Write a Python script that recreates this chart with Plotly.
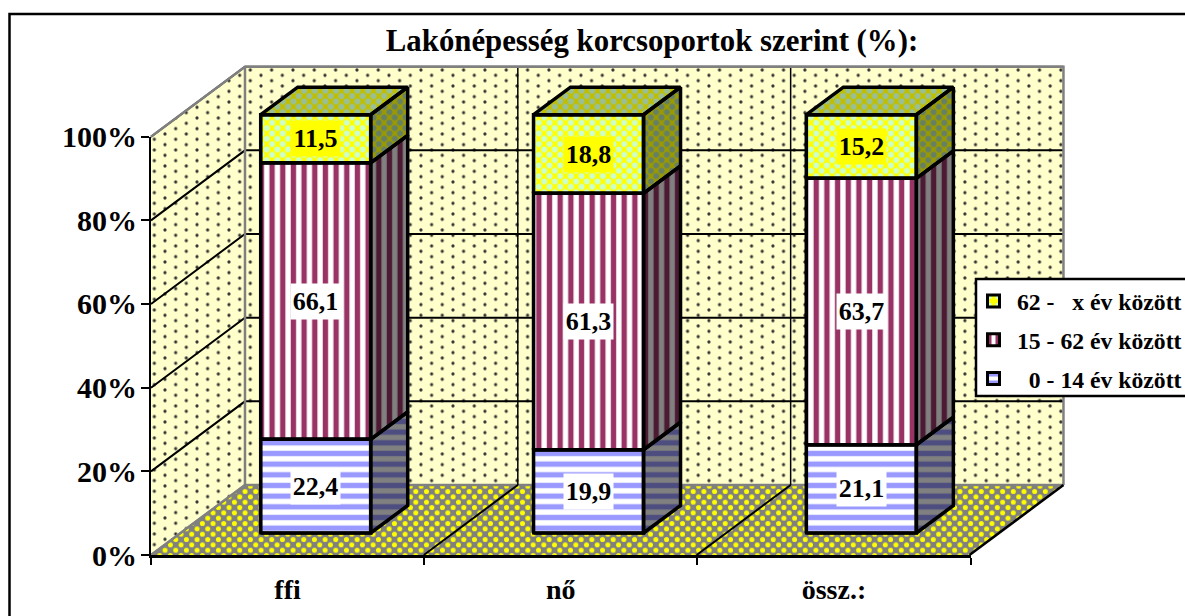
import plotly.graph_objects as go

# --- data ---
CATEGORIES = ["ffi", "nő", "össz.:"]
YOUNG = [22.4, 19.9, 21.1]
ADULT = [66.1, 61.3, 63.7]
OLD = [11.5, 18.8, 15.2]
YTICKS = [0, 20, 40, 60, 80, 100]
YTICK_LABELS = ["0%", "20%", "40%", "60%", "80%", "100%"]
NAMES = ["\u00a0\u00a00\u00a0-\u00a014\u00a0év\u00a0között", "15\u00a0-\u00a062\u00a0év\u00a0között", "62\u00a0-\u00a0\u00a0\u00a0x\u00a0év\u00a0között"]
TITLE = "Lakónépesség korcsoportok szerint (%):"

# --- geometry of the oblique view, in pixels ---
W, H = 1185, 616
FONT = "Liberation Serif"
XS = 272.83        # px per category
YS = 4.183         # px per percent
X0, Y0 = 315.7, 533.0  # px of first bar centre / bar base
BAR_W = 110 / XS
BACK = (65.7 / XS, 48.0 / YS)    # from bar front plane to back wall
FRONT = (-28.3 / XS, -22.0 / YS) # from bar front plane to front floor edge
DEPTH = (37.0 / XS, 27.5 / YS)   # depth of the bar
TILE = 10.67
HALF = TILE / 2
WALL_TILE = 21.33
PAD = 20
# four shifted copies build the staggered dot lattice of the walls, two the floor's
WALL_SHIFTS = {1: (5.0, 6.0), 2: (5.0, 16.67), 3: (15.7, 0.66), 4: (15.7, 11.33)}
FLOOR_SUB, GRID_SUB = 5, 5
BAR_SUB, TOP_SUB, TICK_SUB = 6, 7, 8
OTHER_SHIFTS = {FLOOR_SUB: (5.0 + HALF, 6.0 + HALF), BAR_SUB: (0, 0), TOP_SUB: (HALF, HALF)}


def axes(n, sx=0.0, sy=0.0):
    L, R = sx, W - PAD + sx
    T, B = sy, H - PAD + sy
    common = dict(visible=False, showgrid=False, zeroline=False, fixedrange=True)
    return {
        f"xaxis{n}": dict(domain=[L / W, R / W], range=[(L - X0) / XS, (R - X0) / XS],
                          anchor=f"y{n}", **common),
        f"yaxis{n}": dict(domain=[(H - B) / H, (H - T) / H], range=[(Y0 - B) / YS, (Y0 - T) / YS],
                          anchor=f"x{n}", **common),
    }


def poly(pts, sub, fill=None, pat=None, line=None, lw=0):
    xs = [p[0] for p in pts]
    ys = [p[1] for p in pts]
    kw = dict(x=xs, y=ys, xaxis=f"x{sub}", yaxis=f"y{sub}", showlegend=False,
              hoverinfo="skip", mode="lines")
    if lw:
        kw["line"] = dict(color=line, width=lw)
    else:
        kw["line"] = dict(width=0)
    if fill or pat:
        kw["fill"] = "toself"
        kw["fillcolor"] = fill or "rgba(0,0,0,0)"
        if pat:
            kw["fillpattern"] = pat
    return go.Scatter(**kw)


def dots(color, sol, bg, size=TILE):
    return dict(shape=".", size=size, solidity=sol, fgcolor=color, bgcolor=bg, fgopacity=1)


CLEAR = "rgba(0,0,0,0)"
fig = go.Figure()

lo, hi = -0.5, 2.5
def front(c, p): return (c + FRONT[0], p + FRONT[1])
def back(c, p): return (c + BACK[0], p + BACK[1])

left_wall = [front(lo, 0), front(lo, 100), back(lo, 100), back(lo, 0), front(lo, 0)]
back_wall = [back(lo, 0), back(lo, 100), back(hi, 100), back(hi, 0), back(lo, 0)]
floor = [front(lo, 0), front(hi, 0), back(hi, 0), back(lo, 0), front(lo, 0)]

WALL_DOT = "#333333"
FLOOR_DOT_SOLID = 0.17
for sub in WALL_SHIFTS:
    bgc = "#FFFFCC" if sub == 1 else CLEAR
    for shape_pts in (left_wall, back_wall):
        fig.add_trace(poly(shape_pts, sub, fill=bgc, pat=dots(WALL_DOT, 0.018, bgc, WALL_TILE)))
fig.add_trace(poly(floor, 1, fill="#808080", pat=dots("#FFFF00", FLOOR_DOT_SOLID, "#808080")))
fig.add_trace(poly(floor, FLOOR_SUB, pat=dots("#FFFF00", FLOOR_DOT_SOLID, CLEAR)))

# gridlines, on top of the dot layers
for t in YTICKS:
    col, w = ("black", 2) if t else ("#808080", 2.5)
    fig.add_trace(poly([front(lo, t), back(lo, t), back(hi, t)], GRID_SUB, line=col, lw=w))
for c in (0.5, 1.5):
    fig.add_trace(poly([back(c, 0), back(c, 100)], GRID_SUB, line="black", lw=1.5))
    fig.add_trace(poly([front(c, 0), back(c, 0)], GRID_SUB, line="black", lw=2))
fig.add_trace(poly([front(lo, 100), back(lo, 100), back(hi, 100), back(hi, 0)], GRID_SUB, line="#808080", lw=2.5))
fig.add_trace(poly([back(lo, 100), back(lo, 0)], GRID_SUB, line="#808080", lw=2.5))
fig.add_trace(poly([front(lo, 0), back(lo, 0)], GRID_SUB, line="#808080", lw=2))
fig.add_trace(poly([front(hi, 0), back(hi, 0)], GRID_SUB, line="black", lw=2.5))

# bars
SERIES = [
    dict(vals=YOUNG, name=NAMES[0], rank=3, color="white", fg="#9999FF", shape="-", side_bg="#808080", side_fg="#4D4D80", top_bg=None, top_fg=None, label="white"),
    dict(vals=ADULT, name=NAMES[1], rank=2, color="white", fg="#993366", shape="|", side_bg="#808080", side_fg="#4D1A33", top_bg=None, top_fg=None, label="white"),
    dict(vals=OLD, name=NAMES[2], rank=1, color="#FFFF00", fg="#CCFFCC", shape=".", side_bg="#668066", side_fg="#999900", top_bg="#99BF99", top_fg="#BFBF00", label="#FFFF00"),
]
SOLID = 0.25
cum = [0.0, 0.0, 0.0]
annotations = []
outlines = []
for s in SERIES:
    base = list(cum)
    top = [b + v for b, v in zip(base, s["vals"])]
    solid = SOLID if s["shape"] == "." else 0.5
    fig.add_trace(go.Bar(
        x=[0, 1, 2], y=s["vals"], base=base, width=BAR_W, name=s["name"],
        xaxis=f"x{BAR_SUB}", yaxis=f"y{BAR_SUB}", legendgroup=s["name"], legendrank=s["rank"],
        hoverinfo="skip",
        marker=dict(color=s["color"], line=dict(color="black", width=3),
                    pattern=dict(shape=s["shape"], size=TILE, solidity=solid, fgopacity=1,
                                 fgcolor=s["fg"], bgcolor=s["color"])),
    ))
    if s["shape"] == ".":
        fig.add_trace(go.Bar(
            x=[0, 1, 2], y=s["vals"], base=base, width=BAR_W, showlegend=False,
            xaxis=f"x{TOP_SUB}", yaxis=f"y{TOP_SUB}", hoverinfo="skip",
            marker=dict(color=CLEAR, line=dict(width=0),
                        pattern=dict(shape=".", size=TILE, solidity=solid, fgcolor=s["fg"], bgcolor=CLEAR, fgopacity=1)),
        ))
    for i in range(3):
        l, r = i - BAR_W / 2, i + BAR_W / 2
        dx, dy = DEPTH
        side = [(r, base[i]), (r + dx, base[i] + dy), (r + dx, top[i] + dy), (r, top[i]), (r, base[i])]
        if s["shape"] == ".":
            fig.add_trace(poly(side, BAR_SUB, fill=s["side_fg"], pat=dots(s["side_bg"], solid, s["side_fg"])))
            fig.add_trace(poly(side, TOP_SUB, pat=dots(s["side_bg"], solid, CLEAR)))
            cap = [(l, top[i]), (r, top[i]), (r + dx, top[i] + dy), (l + dx, top[i] + dy), (l, top[i])]
            fig.add_trace(poly(cap, BAR_SUB, fill=s["top_fg"], pat=dots(s["top_bg"], solid, s["top_fg"])))
            fig.add_trace(poly(cap, TOP_SUB, pat=dots(s["top_bg"], solid, CLEAR)))
            outlines.append(cap)
        else:
            fig.add_trace(poly(side, BAR_SUB, fill=s["side_bg"],
                               pat=dict(shape=s["shape"], size=TILE, solidity=0.5, fgopacity=1,
                                        fgcolor=s["side_fg"], bgcolor=s["side_bg"])))
        outlines.append(side)
        outlines.append([(l, base[i]), (r, base[i]), (r, top[i]), (l, top[i]), (l, base[i])])
        annotations.append(dict(
            x=i, y=(base[i] + top[i]) / 2, xref=f"x{BAR_SUB}", yref=f"y{BAR_SUB}",
            text=str(s["vals"][i]).replace(".", ","), showarrow=False,
            font=dict(family=FONT, size=26, color="black", weight=700),
            bgcolor=s["label"], width=47, height=33, align="center", valign="middle",
        ))
    cum = top

for o in outlines:
    fig.add_trace(poly(o, TOP_SUB, line="black", lw=3.5))

# axes with ticks, drawn last
fig.add_trace(go.Scatter(x=CATEGORIES, y=[None, None, None], xaxis=f"x{TICK_SUB}", yaxis=f"y{TICK_SUB}",
                         showlegend=False, hoverinfo="skip", mode="markers"))

layout = dict(
    width=W, height=H, margin=dict(l=0, r=0, t=0, b=0, autoexpand=False),
    paper_bgcolor="white", plot_bgcolor=CLEAR, barmode="overlay",
    title=dict(text=TITLE, x=652 / W, y=1 - 40 / H, xanchor="center", yanchor="middle",
               font=dict(family=FONT, size=30.8, color="black", weight=700)),
    annotations=annotations,
    legend=dict(x=970 / W, y=1 - 279 / H, xanchor="left", yanchor="top",
                bgcolor=CLEAR, borderwidth=0, itemwidth=37,
                traceorder="grouped", tracegroupgap=5, itemclick=False,
                font=dict(family=FONT, size=23.7, color="black", weight=700)),
    shapes=[dict(type="path", xref="paper", yref="paper", path=f"M {9.5/W} 0 L {9.5/W} {1-14/H} L 1 {1-14/H}",
                 line=dict(color="black", width=2.5)),
            dict(type="rect", xref="paper", yref="paper", x0=976 / W, x1=1.02, y0=1 - 396 / H, y1=1 - 279 / H,
                 fillcolor="white", line=dict(color="black", width=2.5), layer="above")],
)
for n, (sx, sy) in {**WALL_SHIFTS, **OTHER_SHIFTS}.items():
    layout.update(axes(n, sx, sy))
AX_L, AX_R, AX_T, AX_B = 151, 970.5, 136.5, 555
layout[f"xaxis{TICK_SUB}"] = dict(domain=[AX_L / W, AX_R / W], anchor=f"y{TICK_SUB}", type="category",
                        categoryorder="array", categoryarray=CATEGORIES, range=[lo, hi],
                        tickson="boundaries", ticks="outside", ticklen=7, tickwidth=2, tickcolor="black",
                        showgrid=False, showline=True, linecolor="black", linewidth=2.5, zeroline=False,
                        ticklabelstandoff=8, fixedrange=True,
                        tickfont=dict(family=FONT, size=28, color="black", weight=700))
layout[f"yaxis{TICK_SUB}"] = dict(domain=[(H - AX_B) / H, (H - AX_T) / H], anchor=f"x{TICK_SUB}", range=[0, 100],
                        tickvals=YTICKS, ticktext=YTICK_LABELS, ticks="outside", ticklen=8, tickwidth=2, tickcolor="black",
                        showgrid=False, showline=True, linecolor="black", linewidth=2, zeroline=False,
                        fixedrange=True, ticklabelstandoff=-2, tickfont=dict(family=FONT, size=30, color="black", weight=700))
fig.update_layout(**layout)
fig.write_html("out.html", config=dict(displayModeBar=False),
               post_script="document.body.style.margin='0';")
